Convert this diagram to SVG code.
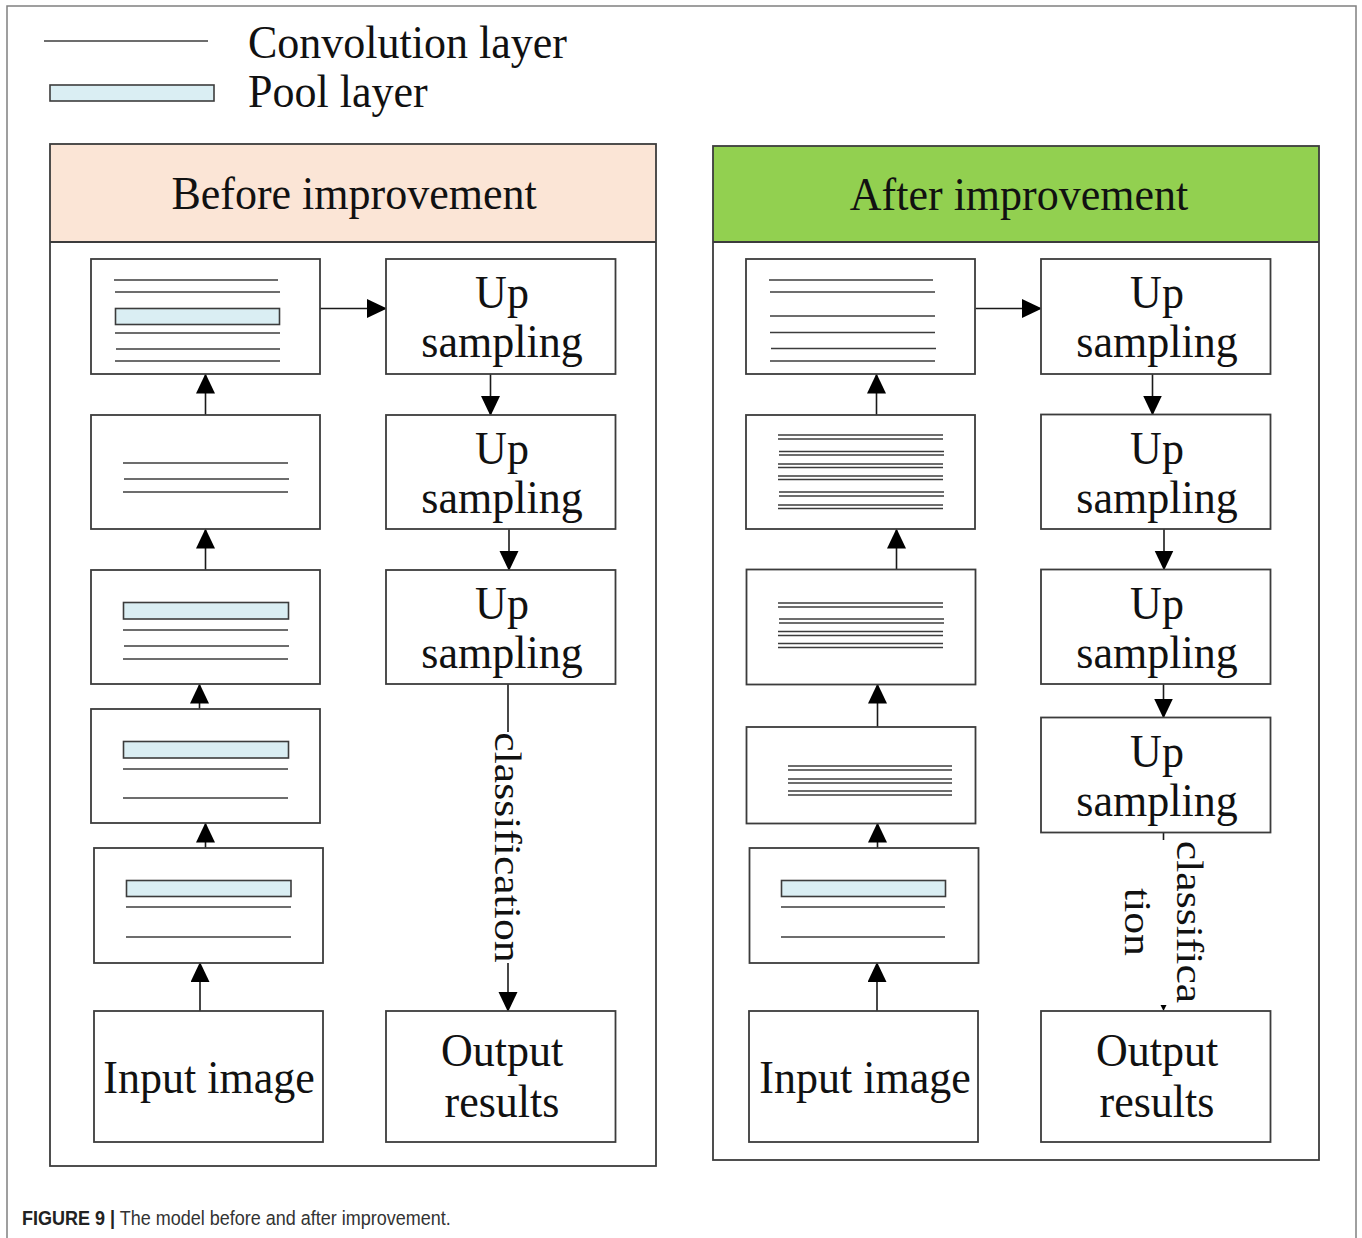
<svg xmlns="http://www.w3.org/2000/svg" width="1362" height="1238" viewBox="0 0 1362 1238">
  <defs>
    <style>
      .frame { fill: none; stroke: #808080; stroke-width: 1.5; }
      .panel { fill: none; stroke: #3c3c3c; stroke-width: 1.8; }
      .box { fill: #ffffff; stroke: #3c3c3c; stroke-width: 1.8; }
      .conv { stroke: #3c3c3c; stroke-width: 1.6; }
      .thin { stroke: #3c3c3c; stroke-width: 1.3; }
      .pool { fill: #daeef3; stroke: #3c3c3c; stroke-width: 1.6; }
      .edge { stroke: #1a1a1a; stroke-width: 1.6; fill: none; }
      .t { font-family: "Liberation Serif", "Times New Roman", serif; font-size: 44px; fill: #111111; }
      .mid { text-anchor: middle; }
      .rot { font-family: "Liberation Serif", "Times New Roman", serif; font-size: 37px; fill: #111111; text-anchor: middle; }
      .cap { font-family: "Liberation Sans", Arial, sans-serif; font-size: 18px; fill: #333333; }
    </style>
    <marker id="ah" markerUnits="userSpaceOnUse" markerWidth="20" markerHeight="20" refX="19" refY="9.5" orient="auto">
      <path d="M0,0 L20,9.5 L0,19 Z" fill="#000000"/>
    </marker>
  </defs>

  <rect width="1362" height="1238" fill="#ffffff"/>
  <!-- outer figure frame, open at the bottom -->
  <rect class="frame" x="7" y="6" width="1349" height="1260"/>

  <!-- legend -->
  <g id="legend">
    <line class="conv" x1="44" y1="41" x2="208" y2="41"/>
    <rect class="pool" x="50" y="85" width="164" height="16"/>
    <text class="t" transform="translate(248,58) scale(1,1.06)">Convolution layer</text>
    <text class="t" transform="translate(248,107) scale(1,1.06)">Pool layer</text>
  </g>

  <!-- panel: before improvement -->
  <g id="panel-before">
    <rect x="50" y="144" width="606" height="98" fill="#fbe5d6"/>
    <rect class="panel" x="50" y="144" width="606" height="1022"/>
    <line class="panel" x1="50" y1="242" x2="656" y2="242"/>
    <text class="t mid" transform="translate(354,209) scale(1,1.06)">Before improvement</text>
  </g>

  <!-- panel: after improvement -->
  <g id="panel-after">
    <rect x="713" y="146" width="606" height="96" fill="#92d050"/>
    <rect class="panel" x="713" y="146" width="606" height="1014"/>
    <line class="panel" x1="713" y1="242" x2="1319" y2="242"/>
    <text class="t mid" transform="translate(1019,210) scale(1,1.06)">After improvement</text>
  </g>

  <!-- connectors -->
  <g id="connectors">
    <!-- before: encoder, bottom to top -->
    <line class="edge" x1="200" y1="1011" x2="200" y2="963" marker-end="url(#ah)"/>
    <line class="edge" x1="205.5" y1="848" x2="205.5" y2="823.5" marker-end="url(#ah)"/>
    <line class="edge" x1="199.5" y1="709" x2="199.5" y2="684.5" marker-end="url(#ah)"/>
    <line class="edge" x1="205.5" y1="570" x2="205.5" y2="529.5" marker-end="url(#ah)"/>
    <line class="edge" x1="205.5" y1="415" x2="205.5" y2="374.5" marker-end="url(#ah)"/>
    <line class="edge" x1="320" y1="308.5" x2="386" y2="308.5" marker-end="url(#ah)"/>
    <!-- before: decoder -->
    <line class="edge" x1="490.5" y1="374" x2="490.5" y2="415" marker-end="url(#ah)"/>
    <line class="edge" x1="509" y1="529" x2="509" y2="570" marker-end="url(#ah)"/>
    <line class="edge" x1="508" y1="684" x2="508" y2="732"/>
    <line class="edge" x1="508" y1="963" x2="508" y2="1011" marker-end="url(#ah)"/>
    <text class="rot" transform="translate(495,847.5) rotate(90) scale(1.18,1)">classification</text>

    <!-- after: encoder, bottom to top -->
    <line class="edge" x1="877" y1="1011" x2="877" y2="963" marker-end="url(#ah)"/>
    <line class="edge" x1="877.5" y1="848" x2="877.5" y2="823.5" marker-end="url(#ah)"/>
    <line class="edge" x1="877.5" y1="727" x2="877.5" y2="684.5" marker-end="url(#ah)"/>
    <line class="edge" x1="896.5" y1="570" x2="896.5" y2="529.5" marker-end="url(#ah)"/>
    <line class="edge" x1="876.5" y1="415" x2="876.5" y2="374.5" marker-end="url(#ah)"/>
    <line class="edge" x1="975.5" y1="308.5" x2="1041" y2="308.5" marker-end="url(#ah)"/>
    <!-- after: decoder -->
    <line class="edge" x1="1152.5" y1="374" x2="1152.5" y2="414.5" marker-end="url(#ah)"/>
    <line class="edge" x1="1164" y1="529" x2="1164" y2="569.5" marker-end="url(#ah)"/>
    <line class="edge" x1="1163.5" y1="684" x2="1163.5" y2="717.5" marker-end="url(#ah)"/>
    <line class="edge" x1="1163.5" y1="832.5" x2="1163.5" y2="840"/>
    <path d="M1160.5,1005 L1166.5,1005 L1163.5,1011 Z" fill="#000000"/>
    <text class="rot" transform="translate(1177,922) rotate(90) scale(1.18,1)">classifica</text>
    <text class="rot" transform="translate(1125,922) rotate(90) scale(1.18,1)">tion</text>
  </g>

  <!-- before: encoder blocks -->
  <g id="b-enc1">
    <rect class="box" x="91" y="259" width="229" height="115"/>
    <line class="conv" x1="114" y1="280" x2="278" y2="280"/>
    <line class="conv" x1="115" y1="292" x2="280" y2="292"/>
    <rect class="pool" x="115.5" y="308.5" width="164" height="16"/>
    <line class="conv" x1="115" y1="333" x2="280" y2="333"/>
    <line class="conv" x1="116" y1="349" x2="280" y2="349"/>
    <line class="conv" x1="115" y1="361" x2="280" y2="361"/>
  </g>
  <g id="b-enc2">
    <rect class="box" x="91" y="415" width="229" height="114"/>
    <line class="conv" x1="123" y1="463" x2="288" y2="463"/>
    <line class="conv" x1="124" y1="479" x2="289" y2="479"/>
    <line class="conv" x1="123" y1="492" x2="288" y2="492"/>
  </g>
  <g id="b-enc3">
    <rect class="box" x="91" y="570" width="229" height="114"/>
    <rect class="pool" x="123.5" y="602.5" width="165" height="16.5"/>
    <line class="conv" x1="123" y1="630" x2="288" y2="630"/>
    <line class="conv" x1="124" y1="646" x2="289" y2="646"/>
    <line class="conv" x1="123" y1="659" x2="288" y2="659"/>
  </g>
  <g id="b-enc4">
    <rect class="box" x="91" y="709" width="229" height="114"/>
    <rect class="pool" x="123.5" y="741.5" width="165" height="16.5"/>
    <line class="conv" x1="123" y1="769" x2="288" y2="769"/>
    <line class="conv" x1="123" y1="798" x2="288" y2="798"/>
  </g>
  <g id="b-enc5">
    <rect class="box" x="94" y="848" width="229" height="115"/>
    <rect class="pool" x="126.5" y="880.5" width="164.5" height="16"/>
    <line class="conv" x1="126" y1="907" x2="291" y2="907"/>
    <line class="conv" x1="126" y1="937" x2="291" y2="937"/>
  </g>
  <g id="b-input">
    <rect class="box" x="94" y="1011" width="229" height="131"/>
    <text class="t mid" transform="translate(209,1093) scale(1,1.06)">Input image</text>
  </g>

  <!-- before: decoder blocks -->
  <g id="b-up1">
    <rect class="box" x="386" y="259" width="229.5" height="115"/>
    <text class="t mid" transform="translate(502,308) scale(1,1.06)">Up</text>
    <text class="t mid" transform="translate(502,357) scale(1,1.06)">sampling</text>
  </g>
  <g id="b-up2">
    <rect class="box" x="386" y="415" width="229.5" height="114"/>
    <text class="t mid" transform="translate(502,464) scale(1,1.06)">Up</text>
    <text class="t mid" transform="translate(502,513) scale(1,1.06)">sampling</text>
  </g>
  <g id="b-up3">
    <rect class="box" x="386" y="570" width="229.5" height="114"/>
    <text class="t mid" transform="translate(502,619) scale(1,1.06)">Up</text>
    <text class="t mid" transform="translate(502,668) scale(1,1.06)">sampling</text>
  </g>
  <g id="b-output">
    <rect class="box" x="386" y="1011" width="229.5" height="131"/>
    <text class="t mid" transform="translate(502,1066) scale(1,1.06)">Output</text>
    <text class="t mid" transform="translate(502,1117) scale(1,1.06)">results</text>
  </g>

  <!-- after: encoder blocks -->
  <g id="a-enc1">
    <rect class="box" x="746" y="259" width="229" height="115"/>
    <line class="conv" x1="769" y1="280" x2="933" y2="280"/>
    <line class="conv" x1="770" y1="292" x2="935" y2="292"/>
    <line class="conv" x1="770" y1="316" x2="935" y2="316"/>
    <line class="conv" x1="770" y1="332.5" x2="935" y2="332.5"/>
    <line class="conv" x1="771" y1="348.5" x2="936" y2="348.5"/>
    <line class="conv" x1="770" y1="361" x2="935" y2="361"/>
  </g>
  <g id="a-enc2">
    <rect class="box" x="746" y="415" width="229" height="114"/>
    <line class="thin" x1="778" y1="435" x2="943" y2="435"/>
    <line class="thin" x1="778" y1="439" x2="943" y2="439"/>
    <line class="thin" x1="779" y1="451.5" x2="944" y2="451.5"/>
    <line class="thin" x1="779" y1="455" x2="944" y2="455"/>
    <line class="thin" x1="778" y1="464" x2="943" y2="464"/>
    <line class="thin" x1="778" y1="467.5" x2="943" y2="467.5"/>
    <line class="thin" x1="778" y1="476" x2="943" y2="476"/>
    <line class="thin" x1="778" y1="479.5" x2="943" y2="479.5"/>
    <line class="thin" x1="779" y1="492" x2="944" y2="492"/>
    <line class="thin" x1="779" y1="496" x2="944" y2="496"/>
    <line class="thin" x1="778" y1="505" x2="943" y2="505"/>
    <line class="thin" x1="778" y1="508.5" x2="943" y2="508.5"/>
  </g>
  <g id="a-enc3">
    <rect class="box" x="746.5" y="569.5" width="229" height="115"/>
    <line class="thin" x1="778" y1="603" x2="943" y2="603"/>
    <line class="thin" x1="778" y1="607" x2="943" y2="607"/>
    <line class="thin" x1="779" y1="619" x2="944" y2="619"/>
    <line class="thin" x1="779" y1="623" x2="944" y2="623"/>
    <line class="thin" x1="778" y1="631.5" x2="943" y2="631.5"/>
    <line class="thin" x1="778" y1="635.5" x2="943" y2="635.5"/>
    <line class="thin" x1="778" y1="643.5" x2="943" y2="643.5"/>
    <line class="thin" x1="778" y1="647.5" x2="943" y2="647.5"/>
  </g>
  <g id="a-enc4">
    <rect class="box" x="746.5" y="727" width="229" height="96.5"/>
    <line class="thin" x1="788" y1="766" x2="952" y2="766"/>
    <line class="thin" x1="788" y1="770" x2="952" y2="770"/>
    <line class="thin" x1="788" y1="779" x2="952" y2="779"/>
    <line class="thin" x1="788" y1="783" x2="952" y2="783"/>
    <line class="thin" x1="788" y1="791" x2="952" y2="791"/>
    <line class="thin" x1="788" y1="795" x2="952" y2="795"/>
  </g>
  <g id="a-enc5">
    <rect class="box" x="749.5" y="848" width="229" height="115"/>
    <rect class="pool" x="781.5" y="880.5" width="164" height="16"/>
    <line class="conv" x1="781" y1="907" x2="945" y2="907"/>
    <line class="conv" x1="781" y1="937" x2="945" y2="937"/>
  </g>
  <g id="a-input">
    <rect class="box" x="749" y="1011" width="229" height="131"/>
    <text class="t mid" transform="translate(865,1093) scale(1,1.06)">Input image</text>
  </g>

  <!-- after: decoder blocks -->
  <g id="a-up1">
    <rect class="box" x="1041" y="259" width="229.5" height="115"/>
    <text class="t mid" transform="translate(1157,308) scale(1,1.06)">Up</text>
    <text class="t mid" transform="translate(1157,357) scale(1,1.06)">sampling</text>
  </g>
  <g id="a-up2">
    <rect class="box" x="1041" y="414.5" width="229.5" height="114.5"/>
    <text class="t mid" transform="translate(1157,463.5) scale(1,1.06)">Up</text>
    <text class="t mid" transform="translate(1157,512.5) scale(1,1.06)">sampling</text>
  </g>
  <g id="a-up3">
    <rect class="box" x="1041" y="569.5" width="229.5" height="114.5"/>
    <text class="t mid" transform="translate(1157,618.5) scale(1,1.06)">Up</text>
    <text class="t mid" transform="translate(1157,667.5) scale(1,1.06)">sampling</text>
  </g>
  <g id="a-up4">
    <rect class="box" x="1041" y="717.5" width="229.5" height="115"/>
    <text class="t mid" transform="translate(1157,766.5) scale(1,1.06)">Up</text>
    <text class="t mid" transform="translate(1157,815.5) scale(1,1.06)">sampling</text>
  </g>
  <g id="a-output">
    <rect class="box" x="1041" y="1011" width="229.5" height="131"/>
    <text class="t mid" transform="translate(1157,1066) scale(1,1.06)">Output</text>
    <text class="t mid" transform="translate(1157,1117) scale(1,1.06)">results</text>
  </g>

  <!-- caption -->
  <text class="cap" transform="translate(22,1225) scale(1,1.16)"><tspan font-weight="bold" fill="#222222">FIGURE 9 |</tspan> The model before and after improvement.</text>
</svg>
